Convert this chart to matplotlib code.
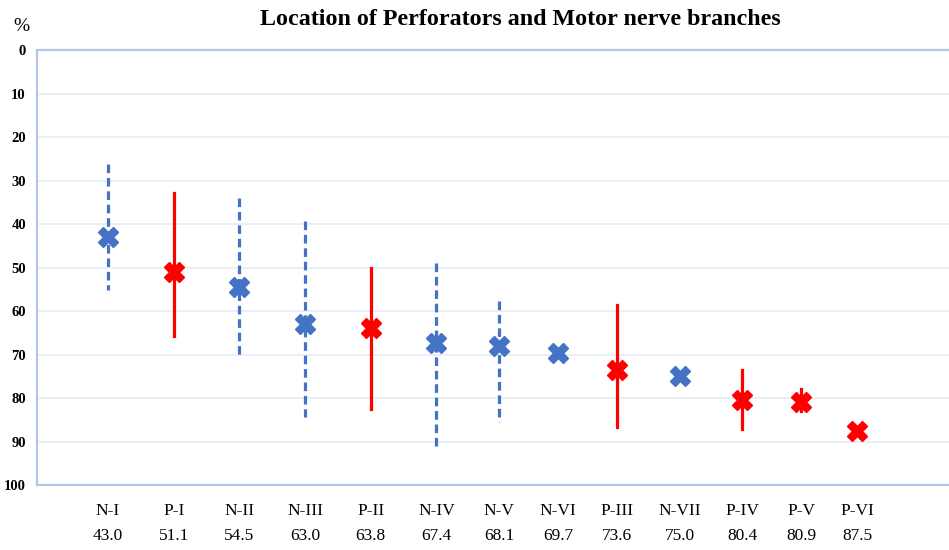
import numpy as np
import matplotlib
matplotlib.use("Agg")
import matplotlib.pyplot as plt

# branch names, horizontal positions and mean location (%)
names = ["N-I", "P-I", "N-II", "N-III", "P-II", "N-IV", "N-V", "N-VI",
         "P-III", "N-VII", "P-IV", "P-V", "P-VI"]
xpos = [1.0, 2.0, 3.0, 4.0, 5.0, 6.0, 6.95, 7.85, 8.75, 9.7, 10.65, 11.55, 12.4]
means = [43.0, 51.1, 54.5, 63.0, 63.8, 67.4, 68.1, 69.7, 73.6, 75.0, 80.4, 80.9, 87.5]
# range of each branch (nan = single observation, no bar)
lows = [26.3, 32.8, 34.0, 39.2, 50.1, 49.0, 57.6, np.nan, 58.5, np.nan, 73.5, 78.0, np.nan]
highs = [55.2, 65.7, 71.0, 84.3, 82.5, 91.0, 85.5, np.nan, 86.7, np.nan, 87.0, 83.0, np.nan]

BLUE = "#4472C4"
RED = "#FF0000"
SERIF = "Liberation Serif"

fig = plt.figure(figsize=(9.49, 5.5), dpi=100)
ax = fig.add_axes([0.039, 0.118, 0.961, 0.791])

for x, m, lo, hi, name in zip(xpos, means, lows, highs, names):
    nerve = name.startswith("N")
    colour = BLUE if nerve else RED
    if not np.isnan(lo):
        if nerve:
            ax.plot([x, x], [lo, hi], color=colour, lw=2.3, dashes=(2.7, 1.5), zorder=2)
        else:
            ax.plot([x, x], [lo, hi], color=colour, lw=2.3, zorder=2)
    ax.plot(x, m, marker="X", ms=15, color=colour, mec=colour, mew=1.0, zorder=3)

ax.set_xlim(-0.08, 13.8)
ax.set_ylim(100, 0)
ax.set_yticks(range(0, 101, 10))
ax.set_yticklabels([str(v) for v in range(0, 101, 10)], fontfamily=SERIF,
                   fontweight="bold", fontsize=10.5)
ax.tick_params(axis="y", length=0, pad=8)

ax.set_xticks(xpos)
ax.set_xticklabels([f"{n}\n{m:.1f}" for n, m in zip(names, means)],
                   fontfamily=SERIF, fontsize=12.5, linespacing=1.7)
ax.tick_params(axis="x", length=0, pad=13)

ax.grid(axis="y", color="#e9eef7", lw=1.4)
ax.set_axisbelow(True)
for side in ("left", "top", "bottom"):
    ax.spines[side].set_color("#b4c7e7")
    ax.spines[side].set_linewidth(1.6)
ax.spines["right"].set_visible(False)

fig.text(0.548, 0.965, "Location of Perforators and Motor nerve branches",
         ha="center", va="center", fontfamily=SERIF, fontweight="bold", fontsize=17.3)
fig.text(0.023, 0.952, "%", ha="center", va="center", fontfamily=SERIF, fontsize=14)

fig.savefig("out.png", dpi=100)
